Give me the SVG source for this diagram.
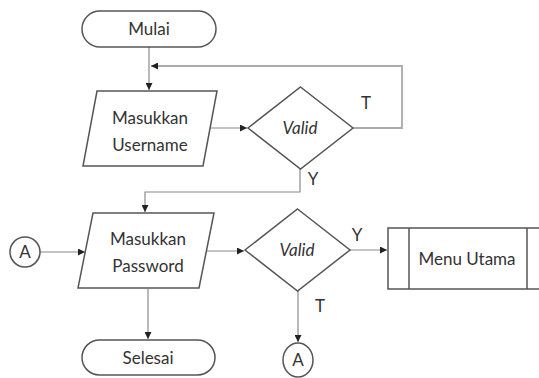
<svg xmlns="http://www.w3.org/2000/svg" width="539" height="378" viewBox="0 0 539 378">
<style>
.s{fill:#fff;stroke:#555;stroke-width:1.5}
.t{font-family:Lato,"Open Sans",sans-serif;font-size:17px;fill:#333;text-anchor:middle}
.i{font-style:italic}
.c{fill:none;stroke:#8a8a8a;stroke-width:1.2}
.l{fill:none;stroke:#aaa;stroke-width:1.8}
</style>
<defs>
<marker id="ah" viewBox="0 0 10 10" refX="10" refY="5" markerWidth="7" markerHeight="7" markerUnits="userSpaceOnUse" orient="auto">
<path d="M0,0 L10,5 L0,10 z" fill="#222"/>
</marker>
</defs>
<rect width="539" height="378" fill="#fff"/>
<g id="connectors">
<path class="c" d="M149,47 V90" marker-end="url(#ah)"/>
<path class="l" d="M353,128 H402 V66 H151" marker-end="url(#ah)"/>
<path class="c" d="M210,128 H247" marker-end="url(#ah)"/>
<path class="c" d="M300,169 V192 H145 V212" marker-end="url(#ah)"/>
<path class="c" d="M40,252 H85" marker-end="url(#ah)"/>
<path class="c" d="M207,251 H244" marker-end="url(#ah)"/>
<path class="c" d="M350,250 H387" marker-end="url(#ah)"/>
<path class="c" d="M298,291 V342" marker-end="url(#ah)"/>
<path class="c" d="M148,289 V339" marker-end="url(#ah)"/>
<text class="t" x="366" y="109">T</text>
<text class="t" x="313" y="185">Y</text>
<text class="t" x="357" y="241">Y</text>
<text class="t" x="320" y="312">T</text>
</g>
<g id="mulai">
<rect class="s" x="82" y="11" width="134" height="36" rx="18"/>
<text class="t" x="149" y="35">Mulai</text>
</g>
<g id="username">
<polygon class="s" points="97,91 217,91 203,166 83,166"/>
<text class="t" x="150" y="124">Masukkan</text>
<text class="t" x="150" y="151">Username</text>
</g>
<g id="valid1">
<polygon class="s" points="300.5,87 353,128 300.5,169 248,128"/>
<text class="t i" x="300" y="134">Valid</text>
</g>
<g id="connA1">
<circle class="s" cx="25" cy="252" r="15"/>
<text class="t" x="25" y="258">A</text>
</g>
<g id="password">
<polygon class="s" points="93,213 214,213 199,288 78,288"/>
<text class="t" x="148" y="245">Masukkan</text>
<text class="t" x="148" y="272">Password</text>
</g>
<g id="valid2">
<polygon class="s" points="297.5,209 350,250 297.5,291 245,250"/>
<text class="t i" x="297" y="256">Valid</text>
</g>
<g id="menu">
<rect class="s" x="388" y="228" width="160" height="61"/>
<line class="s" x1="409" y1="228" x2="409" y2="289"/>
<line class="s" x1="527" y1="228" x2="527" y2="289"/>
<text class="t" x="467" y="265">Menu Utama</text>
</g>
<g id="connA2">
<ellipse class="s" cx="298" cy="360" rx="15" ry="17"/>
<text class="t" x="298" y="366">A</text>
</g>
<g id="selesai">
<rect class="s" x="82" y="340" width="133" height="35" rx="17.5"/>
<text class="t" x="148" y="364">Selesai</text>
</g>
</svg>
